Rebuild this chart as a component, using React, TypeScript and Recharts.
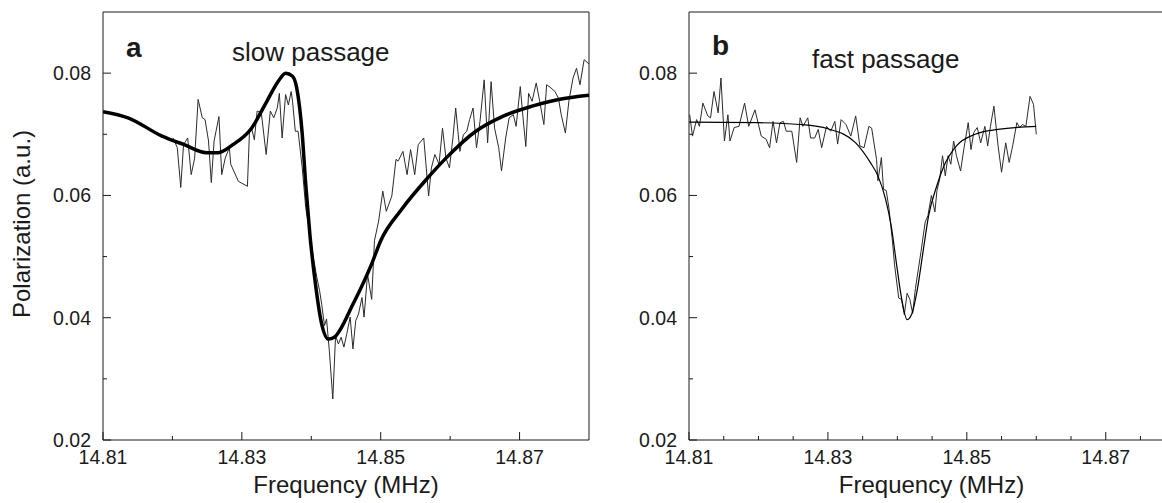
import React from 'react';
import { LineChart, Line, XAxis, YAxis, ReferenceLine } from 'recharts';

// frequency (MHz), polarization (a.u.)
const slowTraceF = [14.8201, 14.8207, 14.8212, 14.8216, 14.8222, 14.8227, 14.8232, 14.8237, 14.8243, 14.8247, 14.8252, 14.8256, 14.826, 14.8267, 14.8271, 14.8276, 14.8282, 14.8284, 14.8295, 14.8308, 14.8311, 14.8314, 14.8318, 14.8322, 14.8328, 14.8335, 14.8341, 14.8346, 14.8351, 14.8354, 14.8358, 14.8363, 14.8367, 14.8371, 14.8373, 14.8377, 14.8381, 14.8387, 14.8392, 14.8398, 14.8403, 14.8408, 14.8412, 14.8415, 14.8419, 14.8422, 14.8426, 14.8431, 14.8435, 14.8439, 14.8443, 14.8447, 14.8451, 14.8456, 14.846, 14.8464, 14.8468, 14.8473, 14.8476, 14.8481, 14.8487, 14.8491, 14.8497, 14.8503, 14.8508, 14.8516, 14.8522, 14.8525, 14.8532, 14.8538, 14.8543, 14.8549, 14.8554, 14.8562, 14.8569, 14.8573, 14.8578, 14.8584, 14.8589, 14.8594, 14.8599, 14.8604, 14.8608, 14.8614, 14.8619, 14.8624, 14.8628, 14.8633, 14.8638, 14.8643, 14.8649, 14.8654, 14.8659, 14.8664, 14.867, 14.8674, 14.868, 14.8685, 14.8691, 14.8695, 14.8701, 14.8705, 14.8709, 14.8713, 14.8718, 14.8724, 14.8729, 14.8735, 14.8739, 14.8745, 14.8751, 14.8756, 14.876, 14.8766, 14.8771, 14.8777, 14.8782, 14.8787, 14.8793, 14.88];
const slowTraceP = [0.0694, 0.0678, 0.0613, 0.0683, 0.0694, 0.0634, 0.0661, 0.0757, 0.0727, 0.0724, 0.0689, 0.0621, 0.0689, 0.0729, 0.0634, 0.0661, 0.0678, 0.0651, 0.0623, 0.0615, 0.0705, 0.071, 0.0691, 0.0738, 0.0735, 0.0667, 0.0738, 0.0727, 0.0743, 0.0767, 0.0694, 0.0765, 0.0748, 0.077, 0.0754, 0.0705, 0.0705, 0.0645, 0.058, 0.0536, 0.0498, 0.0466, 0.0444, 0.0422, 0.0387, 0.0398, 0.0346, 0.0267, 0.0371, 0.0357, 0.0368, 0.0352, 0.0373, 0.0401, 0.0349, 0.0395, 0.0406, 0.0433, 0.0401, 0.0471, 0.043, 0.0526, 0.0558, 0.0607, 0.0574, 0.0599, 0.0659, 0.0656, 0.0672, 0.0634, 0.0675, 0.0634, 0.0683, 0.0694, 0.0599, 0.0645, 0.0667, 0.0651, 0.071, 0.0661, 0.0645, 0.0694, 0.0743, 0.0672, 0.0699, 0.0705, 0.0724, 0.0743, 0.0678, 0.0721, 0.0789, 0.0686, 0.0786, 0.071, 0.0678, 0.064, 0.0694, 0.0727, 0.0732, 0.0713, 0.0778, 0.0727, 0.068, 0.0767, 0.0754, 0.0784, 0.0754, 0.0716, 0.0781, 0.0776, 0.077, 0.0759, 0.0732, 0.0702, 0.0754, 0.0792, 0.0808, 0.0781, 0.0822, 0.0815];

const slowFitF = [14.81, 14.8136, 14.8185, 14.8217, 14.8249, 14.8266, 14.8287, 14.8314, 14.8336, 14.8352, 14.8363, 14.8373, 14.8379, 14.8387, 14.8392, 14.8398, 14.8406, 14.8414, 14.8425, 14.8433, 14.846, 14.8487, 14.85, 14.853, 14.8568, 14.8594, 14.8637, 14.8675, 14.8718, 14.8756, 14.88];
const slowFitP = [0.0737, 0.0727, 0.0697, 0.0683, 0.067, 0.067, 0.0683, 0.071, 0.0754, 0.0786, 0.08, 0.0795, 0.0776, 0.07, 0.0618, 0.0536, 0.0455, 0.0395, 0.0365, 0.0368, 0.0422, 0.0488, 0.0526, 0.0577, 0.0629, 0.0661, 0.0705, 0.0729, 0.0746, 0.0757, 0.0764];

const fastTraceF = [14.8101, 14.8105, 14.8111, 14.8115, 14.812, 14.8127, 14.8131, 14.8136, 14.8142, 14.8146, 14.8151, 14.8156, 14.8159, 14.8165, 14.8172, 14.818, 14.8186, 14.8195, 14.8204, 14.8211, 14.8216, 14.8221, 14.8226, 14.8231, 14.8236, 14.824, 14.8248, 14.8255, 14.826, 14.8264, 14.8271, 14.8275, 14.8281, 14.8286, 14.8291, 14.8298, 14.8304, 14.831, 14.8314, 14.8319, 14.8326, 14.8333, 14.834, 14.8346, 14.8352, 14.8359, 14.8363, 14.837, 14.8372, 14.8377, 14.838, 14.8384, 14.8388, 14.8393, 14.8396, 14.8402, 14.8406, 14.841, 14.8414, 14.8418, 14.8422, 14.8426, 14.843, 14.8434, 14.844, 14.8444, 14.8449, 14.8454, 14.8457, 14.8461, 14.8465, 14.8469, 14.8473, 14.8477, 14.8481, 14.8485, 14.8491, 14.8496, 14.8502, 14.8506, 14.851, 14.8515, 14.852, 14.8526, 14.853, 14.8534, 14.8539, 14.8545, 14.855, 14.8556, 14.8561, 14.8566, 14.8572, 14.8576, 14.858, 14.8585, 14.8591, 14.8596, 14.86];
const fastTraceP = [0.0732, 0.0697, 0.0724, 0.0713, 0.0751, 0.073, 0.0727, 0.077, 0.0735, 0.0792, 0.0689, 0.0732, 0.0689, 0.0711, 0.0713, 0.0751, 0.0713, 0.074, 0.0697, 0.0692, 0.0678, 0.0721, 0.0686, 0.0719, 0.0721, 0.0705, 0.0705, 0.0654, 0.0727, 0.0713, 0.0727, 0.0694, 0.0694, 0.0708, 0.0678, 0.0713, 0.0705, 0.0721, 0.0684, 0.0724, 0.0716, 0.0697, 0.073, 0.0681, 0.0678, 0.0713, 0.071, 0.0659, 0.0624, 0.0662, 0.061, 0.0608, 0.0578, 0.0524, 0.0486, 0.0432, 0.043, 0.0405, 0.044, 0.043, 0.0407, 0.0448, 0.0478, 0.0508, 0.0556, 0.0567, 0.06, 0.0573, 0.0608, 0.0627, 0.0665, 0.0632, 0.0665, 0.0651, 0.0689, 0.0665, 0.064, 0.0678, 0.0719, 0.0675, 0.0703, 0.0711, 0.0686, 0.0713, 0.0681, 0.0713, 0.0746, 0.0681, 0.0638, 0.0686, 0.0654, 0.0681, 0.0719, 0.0711, 0.0716, 0.0713, 0.0762, 0.0749, 0.07];

const fastFitF = [14.81, 14.82, 14.826, 14.83, 14.834, 14.8361, 14.8372, 14.8383, 14.8391, 14.8399, 14.8406, 14.8414, 14.8421, 14.8429, 14.8437, 14.8445, 14.8456, 14.8467, 14.8485, 14.8512, 14.8545, 14.86];
const fastFitP = [0.072, 0.0719, 0.0716, 0.0709, 0.0686, 0.0654, 0.0632, 0.0594, 0.0551, 0.0486, 0.0432, 0.0397, 0.0407, 0.0448, 0.0508, 0.0567, 0.0613, 0.0648, 0.0681, 0.07, 0.0708, 0.0713];

const yTicks = [0.02, 0.03, 0.04, 0.05, 0.06, 0.07, 0.08];
const slowXTicks = [14.81, 14.82, 14.83, 14.84, 14.85, 14.86, 14.87];
const fastXTicks = [14.81, 14.815, 14.82, 14.825, 14.83, 14.835, 14.84, 14.845, 14.85, 14.855, 14.86, 14.865, 14.87, 14.875];

const toRows = (fs: number[], ps: number[]) => fs.map((f, i) => ({ f, p: ps[i] }));

const INK = '#1a1a1a';
const TICK_FONT = 19.5;

function XTick(props: any) {
  const { x, y, payload } = props;
  const v = payload.value as number;
  const major = Math.round(v * 1000) % 20 === 10;
  return (
    <g>
      <line x1={x} x2={x} y1={y} y2={y - (major ? 8 : 4)} stroke={INK} strokeWidth={1} />
      {major && (
        <text x={x} y={y + 24} textAnchor="middle" fontSize={TICK_FONT} fill={INK}>
          {v.toFixed(2)}
        </text>
      )}
    </g>
  );
}

function YTick(props: any) {
  const { x, y, payload } = props;
  const v = payload.value as number;
  const major = Math.round(v * 100) % 2 === 0;
  return (
    <g>
      <line x1={x} x2={x + (major ? 8 : 4)} y1={y} y2={y} stroke={INK} strokeWidth={1} />
      {major && (
        <text x={x - 12} y={y} dy="0.36em" textAnchor="end" fontSize={TICK_FONT} fill={INK}>
          {v.toFixed(2)}
        </text>
      )}
    </g>
  );
}

function Panel({ letter, caption, captionX, captionY, trace, fit, fitWidth, xTicks, xMax, width, left, yLabel }: any) {
  const marginLeft = 103;
  const plotRight = width - (xMax >= 14.88 ? 11 : 0);
  return (
    <div style={{ position: 'absolute', left, top: 0 }}>
      <LineChart width={width} height={503} margin={{ top: 12, right: width - plotRight, bottom: 0, left: 0 }}>
        <XAxis
          dataKey="f"
          type="number"
          domain={[14.81, xMax]}
          allowDataOverflow
          ticks={xTicks}
          interval={0}
          tick={<XTick />}
          tickLine={false}
          tickSize={0}
          tickMargin={0}
          height={63}
          axisLine={{ stroke: INK, strokeWidth: 1 }}
          label={(p: any) => {
            const vb = p.viewBox || {};
            const cx = (vb.x ?? 0) + (vb.width ?? 0) / 2 + (xMax >= 14.88 ? 0 : 6);
            return (
              <text x={cx} y={493} textAnchor="middle" fontSize={24} fill={INK}>
                Frequency (MHz)
              </text>
            );
          }}
        />
        <YAxis
          type="number"
          domain={[0.02, 0.09]}
          allowDataOverflow
          ticks={yTicks}
          interval={0}
          tick={<YTick />}
          tickLine={false}
          tickSize={0}
          tickMargin={0}
          width={marginLeft - (left > 0 ? 14 : 0)}
          axisLine={{ stroke: INK, strokeWidth: 1 }}
          label={(p: any) =>
            yLabel ? (
              <text x={22} y={224} transform="rotate(-90 22 224)" textAnchor="middle" dy="0.35em" fontSize={24} fill={INK}>
                Polarization (a.u.)
              </text>
            ) : null
          }
        />
        <ReferenceLine
          y={0.09}
          stroke={INK}
          strokeWidth={1}
          label={(p: any) => {
            const vb = p.viewBox || {};
            const x0 = vb.x ?? 0;
            return (
              <g>
                <text x={x0 + 23} y={letter === 'a' ? 57 : 55} fontSize={28} fontWeight="bold" fill={INK}>
                  {letter}
                </text>
                <text x={x0 + captionX} y={captionY} fontSize={26} fill={INK}>
                  {caption}
                </text>
              </g>
            );
          }}
        />
        {xMax >= 14.88 && <ReferenceLine x={14.88} stroke={INK} strokeWidth={1} />}
        <Line
          data={trace}
          dataKey="p"
          type="linear"
          stroke="#2b2b2b"
          strokeWidth={1}
          dot={false}
          isAnimationActive={false}
        />
        <Line
          data={fit}
          dataKey="p"
          type="monotone"
          stroke="#000"
          strokeWidth={fitWidth}
          dot={false}
          isAnimationActive={false}
        />
      </LineChart>
    </div>
  );
}

export default function App() {
  return (
    <div
      style={{
        position: 'absolute',
        left: 0,
        top: 0,
        width: 1162,
        height: 503,
        overflow: 'hidden',
        background: '#fff',
        fontFamily: '"Liberation Sans", Arial, Helvetica, sans-serif',
      }}
    >
      <Panel
        letter="a"
        caption="slow passage"
        captionX={129}
        captionY={61}
        trace={toRows(slowTraceF, slowTraceP)}
        fit={toRows(slowFitF, slowFitP)}
        fitWidth={3.5}
        xTicks={slowXTicks}
        xMax={14.88}
        width={600}
        left={0}
        yLabel
      />
      <Panel
        letter="b"
        caption="fast passage"
        captionX={123}
        captionY={68}
        trace={toRows(fastTraceF, fastTraceP)}
        fit={toRows(fastFitF, fastFitP)}
        fitWidth={1.2}
        xTicks={fastXTicks}
        xMax={14.8781}
        width={562}
        left={600}
        yLabel={false}
      />
    </div>
  );
}
